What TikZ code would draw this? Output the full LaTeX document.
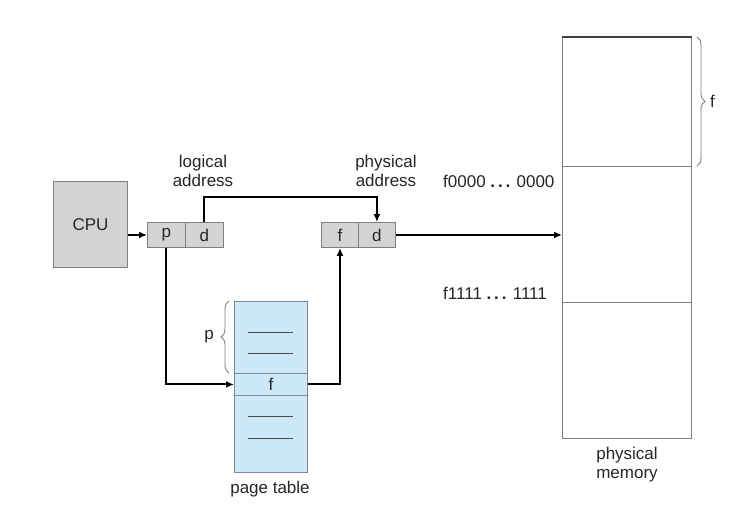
\documentclass[tikz,border=0pt]{standalone}
\usepackage{fontspec}
\setmainfont{Liberation Sans}
\usetikzlibrary{decorations.pathreplacing,arrows.meta}
\definecolor{boxgray}{HTML}{D3D3D3}
\definecolor{edgegray}{HTML}{7F7F7F}
\definecolor{ptblue}{HTML}{CDE8F8}
\definecolor{ptedge}{HTML}{7D8A96}
\begin{document}
\begin{tikzpicture}[x=1pt,y=-1pt,
  txt/.style={font=\fontsize{17}{19}\selectfont, align=center, inner sep=0pt, text=black!85},
  graybox/.style={draw=edgegray, fill=boxgray, line width=0.9pt, inner sep=0pt, anchor=north west, font=\fontsize{17}{19}\selectfont, text=black!85},
  ptbox/.style={draw=ptedge, fill=ptblue, line width=0.9pt, inner sep=0pt, anchor=north west, font=\fontsize{17}{19}\selectfont, text=black!85},
  membox/.style={draw=edgegray, fill=white, line width=0.9pt, inner sep=0pt, anchor=north west},
  conn/.style={line width=2pt, -{Latex[length=8pt,width=7pt]}},
  brc/.style={draw=edgegray, line width=0.9pt, decorate, decoration={brace, amplitude=8pt}},
  dash line/.style={draw=black!70, line width=0.9pt}]
\useasboundingbox (0,0) rectangle (747,511);
\fill[white] (0,0) rectangle (747,511);
% CPU
\node[graybox, minimum width=74pt, minimum height=86pt] (cpu) at (53,181) {CPU};
% logical address
\node[graybox, minimum width=38pt, minimum height=25pt] (lp) at (147,222) {p};
\node[graybox, minimum width=38pt, minimum height=25pt] (ld) at (185,222) {d};
\node[txt] (ltxt) at (203,171) {logical\\address};
% physical address
\node[graybox, minimum width=37pt, minimum height=25pt] (pf) at (321,222) {f};
\node[graybox, minimum width=37pt, minimum height=25pt] (pd) at (358,222) {d};
\node[txt] (ptxt) at (386,171) {physical\\address};
% page table
\node[ptbox, minimum width=73pt, minimum height=72pt] (pt1) at (234,301) {};
\node[ptbox, minimum width=73pt, minimum height=22pt] (ptf) at (234,373) {f};
\node[ptbox, minimum width=73pt, minimum height=77pt] (pt2) at (234,395) {};
\draw[dash line] (248,332) -- (293,332);
\draw[dash line] (248,353) -- (293,353);
\draw[dash line] (248,416) -- (293,416);
\draw[dash line] (248,438) -- (293,438);
\node[txt] (pttxt) at (270,489) {page table};
\draw[brc] (229,373) -- (229,301);
\node[txt, anchor=east] (plbl) at (214,337) {p};
% physical memory
\node[membox, minimum width=129pt, minimum height=129pt] (m1) at (562,37) {};
\node[membox, minimum width=129pt, minimum height=136pt] (m2) at (562,166) {};
\node[membox, minimum width=129pt, minimum height=136pt] (m3) at (562,302) {};
\draw[black!75, line width=1.5pt] (m1.north west) -- (m1.north east);
\node[txt] (mtxt) at (627,465) {physical\\memory};
\draw[brc] (697,37) -- (697,166);
\node[txt, anchor=west] (flbl) at (710,101) {f};
\node[txt, anchor=west] (a0) at (443,181) {f0000 \textbf{.\,.\,.} 0000};
\node[txt, anchor=west] (a1) at (443,293) {f1111 \textbf{.\,.\,.} 1111};
% connectors
\draw[conn] (cpu.east |- lp.west) -- (lp.west);
\draw[conn] (ld.north) -- ++(0,-25) -| (pd.north);
\draw[conn] (pd.east) -- (pd.east -| m2.west);
\draw[conn] (lp.south) |- (ptf.west);
\draw[conn] (ptf.east) -| (pf.south);
\end{tikzpicture}
\end{document}
